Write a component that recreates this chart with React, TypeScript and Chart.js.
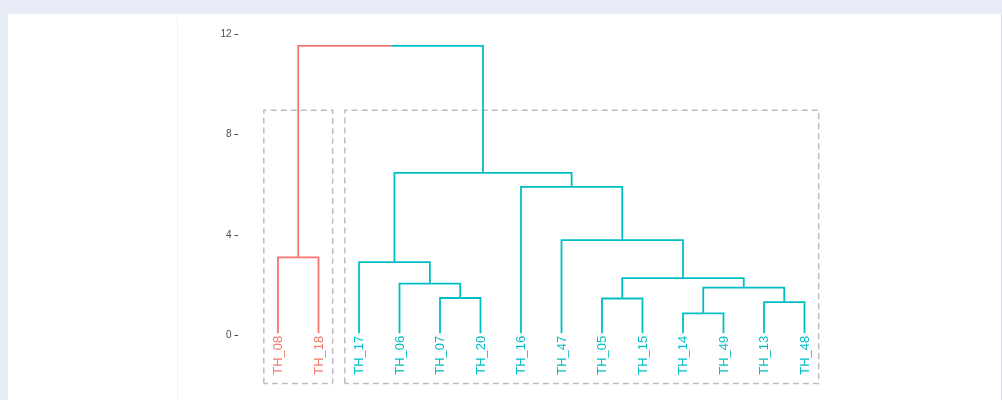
import React, { useEffect, useRef } from 'react';
import { Chart, registerables } from 'chart.js';

Chart.register(...registerables);

// Leaves in display order (left to right)
const leafLabels = [
  'TH_08', 'TH_18', 'TH_17', 'TH_06', 'TH_07', 'TH_20', 'TH_16',
  'TH_47', 'TH_05', 'TH_15', 'TH_14', 'TH_49', 'TH_13', 'TH_48',
];
// Cluster membership of each leaf (k = 2)
const leafGroup = [0, 0, 1, 1, 1, 1, 1, 1, 1, 1, 1, 1, 1, 1];
const groupColors = ['#F8766D', '#00BFC4'];

// hclust-style merge table: negative = leaf position (1-based), positive = earlier merge (1-based)
const mergeLeft = [-11, -13, -9, -5, 1, -4, 3, -3, -1, -8, -7, 8, 9];
const mergeRight = [-12, -14, -10, -6, 2, 4, 5, 6, -2, 7, 10, 11, 12];
const mergeHeight = [0.89, 1.34, 1.48, 1.5, 1.91, 2.07, 2.29, 2.93, 3.12, 3.8, 5.92, 6.48, 11.53];

const yTicks = [0, 4, 8, 12];
const leafTipHeight = 0.1;

// Cluster boxes: padding around the leaves and vertical extent
const rectPad = 0.35;
const rectBottom = -1.9;
const rectTop = 8.97;

type Pt = { x: number; y: number };

function buildDatasets() {
  const nodeX: number[] = [];
  const nodeH: number[] = [];
  const nodeG: number[] = [];
  const child = (id: number) => {
    if (id < 0) {
      const i = -id - 1;
      return { x: i + 1, h: leafTipHeight, g: leafGroup[i] };
    }
    return { x: nodeX[id - 1], h: nodeH[id - 1], g: nodeG[id - 1] };
  };
  const lines: any[] = [];
  for (let k = 0; k < mergeHeight.length; k++) {
    const L = child(mergeLeft[k]);
    const R = child(mergeRight[k]);
    const h = mergeHeight[k];
    const mid = (L.x + R.x) / 2;
    nodeX.push(mid);
    nodeH.push(h);
    nodeG.push(L.g === R.g ? L.g : -1);
    const leftPts: Pt[] = [{ x: L.x, y: L.h }, { x: L.x, y: h }, { x: mid, y: h }];
    const rightPts: Pt[] = [{ x: mid, y: h }, { x: R.x, y: h }, { x: R.x, y: R.h }];
    [[leftPts, L.g], [rightPts, R.g]].forEach(([pts, g]: any) => {
      lines.push({
        data: pts,
        showLine: true,
        borderColor: g >= 0 ? groupColors[g] : '#888888',
        borderWidth: 1.8,
        pointRadius: 0,
        pointHoverRadius: 0,
        fill: false,
        tension: 0,
        order: 1,
        clip: false,
      });
    });
  }

  const rects: any[] = [];
  groupColors.forEach((_, g) => {
    const pos = leafGroup.map((v, i) => (v === g ? i + 1 : NaN)).filter((v) => !isNaN(v));
    const x0 = Math.min(...pos) - rectPad;
    const x1 = Math.max(...pos) + rectPad;
    rects.push({
      data: [
        { x: x0, y: rectBottom },
        { x: x0, y: rectTop },
        { x: x1, y: rectTop },
        { x: x1, y: rectBottom },
        { x: x0, y: rectBottom },
      ],
      showLine: true,
      borderColor: '#bdbdbd',
      borderWidth: 1.5,
      borderDash: [6, 4],
      pointRadius: 0,
      pointHoverRadius: 0,
      fill: false,
      tension: 0,
      order: 2,
      clip: false,
    });
  });
  return [...lines, ...rects];
}

const leafLabelPlugin = {
  id: 'leafLabels',
  afterDatasetsDraw(chart: any) {
    const { ctx, scales } = chart;
    const xs = scales.x;
    const ys = scales.y;
    ctx.save();
    ctx.font = '13px "Liberation Sans", Arial, sans-serif';
    ctx.textAlign = 'right';
    ctx.textBaseline = 'middle';
    leafLabels.forEach((lab, i) => {
      const px = xs.getPixelForValue(i + 1);
      const py = ys.getPixelForValue(0);
      ctx.save();
      ctx.translate(px + 0.5, py);
      ctx.rotate(-Math.PI / 2);
      ctx.fillStyle = groupColors[leafGroup[i]];
      ctx.fillText(lab, 0, 0);
      ctx.restore();
    });
    ctx.restore();
  },
};

export default function App() {
  const canvasRef = useRef<HTMLCanvasElement | null>(null);

  useEffect(() => {
    if (!canvasRef.current) return;
    const chart = new Chart(canvasRef.current, {
      type: 'scatter',
      data: { datasets: buildDatasets() },
      options: {
        responsive: false,
        animation: false,
        events: [],
        layout: { padding: { left: 0, right: 157, top: 8.83, bottom: 8.63 } },
        plugins: { legend: { display: false }, tooltip: { enabled: false } },
        scales: {
          x: { type: 'linear', display: false, min: 0, max: 15 },
          y: {
            type: 'linear',
            min: -2.2,
            max: 13,
            afterFit: (s: any) => {
              s.width = 237.5;
            },
            afterBuildTicks: (s: any) => {
              s.ticks = yTicks.map((v) => ({ value: v }));
            },
            border: { display: false },
            grid: {
              drawOnChartArea: false,
              drawTicks: true,
              tickLength: 3,
              tickColor: '#4d4d4d',
              lineWidth: 1,
            },
            ticks: {
              padding: 3,
              color: '#4d4d4d',
              font: { family: '"Liberation Sans", Arial, sans-serif', size: 10 },
            },
          },
        },
      },
      plugins: [leafLabelPlugin],
    });
    return () => chart.destroy();
  }, []);

  return (
    <div
      style={{
        position: 'fixed',
        left: 0,
        top: 0,
        width: 1002,
        height: 400,
        background: '#e7ebf5',
        overflow: 'hidden',
      }}
    >
      <div
        style={{
          position: 'absolute',
          left: 8,
          top: 14,
          width: 993,
          height: 400,
          background: '#ffffff',
          borderRight: '1px solid #d6d9e0',
        }}
      />
      <div
        style={{
          position: 'absolute',
          left: 177,
          top: 18,
          width: 1,
          height: 382,
          background: '#f1f1f3',
        }}
      />
      <canvas
        ref={canvasRef}
        width={1002}
        height={400}
        style={{ position: 'absolute', left: 0, top: 0 }}
      />
    </div>
  );
}
